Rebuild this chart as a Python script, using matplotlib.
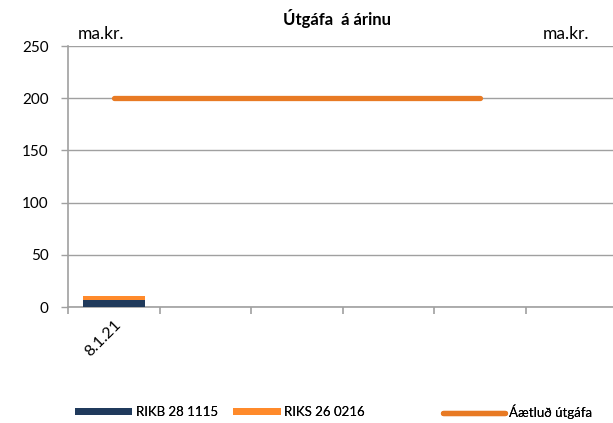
import matplotlib.pyplot as plt
import numpy as np
from matplotlib.patches import Patch
from matplotlib.lines import Line2D

plt.rcParams['font.family'] = ['Lato', 'DejaVu Sans']

# Issuance by category (ma.kr.)
categories = ["8.1.21", "", "", "", "", ""]
rikb_28_1115 = [6.5, 0, 0, 0, 0, 0]
riks_26_0216 = [4.0, 0, 0, 0, 0, 0]
planned_x = [0, 1, 2, 3, 4]
planned_issue = [200, 200, 200, 200, 200]

navy = "#203A5C"
orange_bar = "#FF8A2B"
orange_line = "#E87A24"
grid_gray = "#A0A0A0"

W, H = 613, 423
fig = plt.figure(figsize=(W / 100, H / 100), dpi=100)
ax = fig.add_axes([68 / W, 116 / H, 549 / W, 261 / H])

x = np.arange(len(categories))
ax.bar(x, rikb_28_1115, width=0.68, color=navy, zorder=3)
ax.bar(x, riks_26_0216, width=0.68, bottom=rikb_28_1115, color=orange_bar, zorder=3)
ax.plot(planned_x, planned_issue, color=orange_line, linewidth=3.8,
        solid_capstyle="round", zorder=4)

ax.set_xlim(-0.5, len(categories) - 0.5)
ax.set_ylim(0, 250)
ax.set_yticks(range(0, 251, 50))
ax.yaxis.grid(True, color=grid_gray, linewidth=1.0)
ax.set_axisbelow(True)

# category boundaries carry the tick marks, labels sit at the centres
ax.set_xticks(np.arange(-0.5, len(categories), 1.0))
ax.set_xticklabels([])
ax.set_xticks(x, minor=True)
ax.set_xticklabels(categories, minor=True, rotation=45, ha="right",
                   rotation_mode="anchor", fontsize=11.5)
ax.tick_params(axis="x", which="minor", length=0, pad=8)
ax.tick_params(axis="x", which="major", length=5, color=grid_gray, width=1.2)
ax.tick_params(axis="y", length=5, color=grid_gray, width=1.0, labelsize=11, pad=9)

for side in ["top", "right"]:
    ax.spines[side].set_visible(False)
for side in ["left", "bottom"]:
    ax.spines[side].set_color(grid_gray)
    ax.spines[side].set_linewidth(1.2)

fig.text(337 / W, 1 - 18 / H, "Útgáfa  á árinu", ha="center", va="center",
         fontsize=12, fontweight="bold")
fig.text(101 / W, 1 - 34 / H, "ma.kr.", ha="center", va="center", fontsize=12.5)
fig.text(566 / W, 1 - 34 / H, "ma.kr.", ha="center", va="center", fontsize=12.5)

# legend entries placed one by one along the bottom
entries = [
    (Patch(facecolor=navy), "RIKB 28 1115", 75, 4.3),
    (Patch(facecolor=orange_bar), "RIKS 26 0216", 233, 3.6),
    (Line2D([0], [0], color=orange_line, linewidth=3.8, solid_capstyle="round"),
     "Áætluð útgáfa", 443, 4.7),
]
for handle, label, left, hlen in entries:
    leg = fig.legend([handle], [label], loc="center left",
                     bbox_to_anchor=(left / W, 1 - 412 / H), frameon=False,
                     fontsize=9.5, handlelength=hlen, handleheight=0.45,
                     handletextpad=0.3, borderpad=0, borderaxespad=0)
    fig.add_artist(leg)

fig.savefig("out.png", dpi=100)
